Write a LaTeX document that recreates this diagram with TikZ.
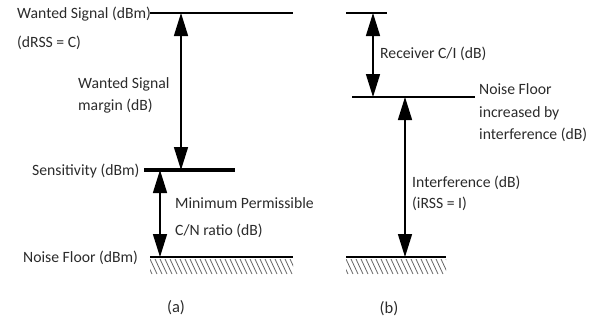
\documentclass[tikz,border=0pt]{standalone}
\usepackage{fontspec}
\setmainfont{Carlito}
\usetikzlibrary{arrows.meta}
\definecolor{labelgray}{gray}{0.17}
\definecolor{hatchgray}{gray}{0.4}
\tikzset{
  lbl/.style={anchor=base west, inner sep=0pt, text=labelgray,
    font=\fontsize{15.7bp}{21.5bp}\selectfont},
  sublabel/.style={lbl, anchor=base, font=\fontsize{16.5bp}{21.5bp}\selectfont},
  level/.style={line width=2bp},
  thicklevel/.style={line width=3.5bp},
  dim/.style={line width=1.5bp, {Triangle[length=23bp,width=14bp]}-{Triangle[length=23bp,width=14bp]}},
  hatch/.style={line width=0.8bp, draw=hatchgray},
}
\begin{document}
\begin{tikzpicture}[x=1bp,y=-1bp]
\useasboundingbox (0,0) rectangle (590,323);

% ---------- (a) link budget of the wanted signal ----------
\coordinate (wsL) at (150,13);   \coordinate (wsR) at (293,13);
\coordinate (seL) at (144,170);  \coordinate (seR) at (235,170);
\coordinate (nfL) at (150,257);  \coordinate (nfR) at (293,257);
\coordinate (mTop) at (181,13);  \coordinate (mBot) at (181,170);
\coordinate (cTop) at (160,170); \coordinate (cBot) at (160,257);

\draw[level] (wsL) -- (wsR);
\draw[thicklevel] (seL) -- (seR);
\draw[level] (nfL) -- (nfR);
\draw[dim] (mTop) -- (mBot);
\draw[dim] (cTop) -- (cBot);

\begin{scope}
  \clip (150,259) rectangle (293,274);
  \foreach \x in {140,145,...,295} \draw[hatch] (\x,259) -- (\x+7,274);
\end{scope}

\node[lbl] (ws1) at (17,18.5) {Wanted Signal (dBm)};
\node[lbl] (ws2) at (17,47.5) {(dRSS = C)};
\node[lbl] (mg1) at (78,88.5) {Wanted Signal};
\node[lbl] (mg2) at (78,110.5) {margin (dB)};
\node[lbl] (sens) at (32,175.5) {Sensitivity (dBm)};
\node[lbl] (cn1) at (175,208.5) {Minimum Permissible};
\node[lbl] (cn2) at (175,235.5) {C/N ratio (dB)};
\node[lbl] (nf) at (23,262.5) {Noise Floor (dBm)};
\node[sublabel] (capA) at (176,312) {(a)};

% ---------- (b) interference raising the noise floor ----------
\coordinate (tL) at (346,13);    \coordinate (tR) at (387,13);
\coordinate (inL) at (352,97);   \coordinate (inR) at (475,97);
\coordinate (bL) at (346,257);   \coordinate (bR) at (446,257);
\coordinate (ciTop) at (373,13); \coordinate (ciBot) at (373,97);
\coordinate (iTop) at (405,97);  \coordinate (iBot) at (405,257);

\draw[level] (tL) -- (tR);
\draw[level] (inL) -- (inR);
\draw[level] (bL) -- (bR);
\draw[dim] (ciTop) -- (ciBot);
\draw[dim] (iTop) -- (iBot);

\begin{scope}
  \clip (346,259) rectangle (446,274);
  \foreach \x in {336,341,...,448} \draw[hatch] (\x,259) -- (\x+7,274);
\end{scope}

\node[lbl] (ci) at (380,58.5) {Receiver C/I (dB)};
\node[lbl] (ni1) at (479,94.5) {Noise Floor};
\node[lbl] (ni2) at (479,117.5) {increased by};
\node[lbl] (ni3) at (479,139.5) {interference (dB)};
\node[lbl] (if1) at (412,187.5) {Interference (dB)};
\node[lbl] (if2) at (412,208.5) {(iRSS = I)};
\node[sublabel] (capB) at (389,313) {(b)};
\end{tikzpicture}
\end{document}
